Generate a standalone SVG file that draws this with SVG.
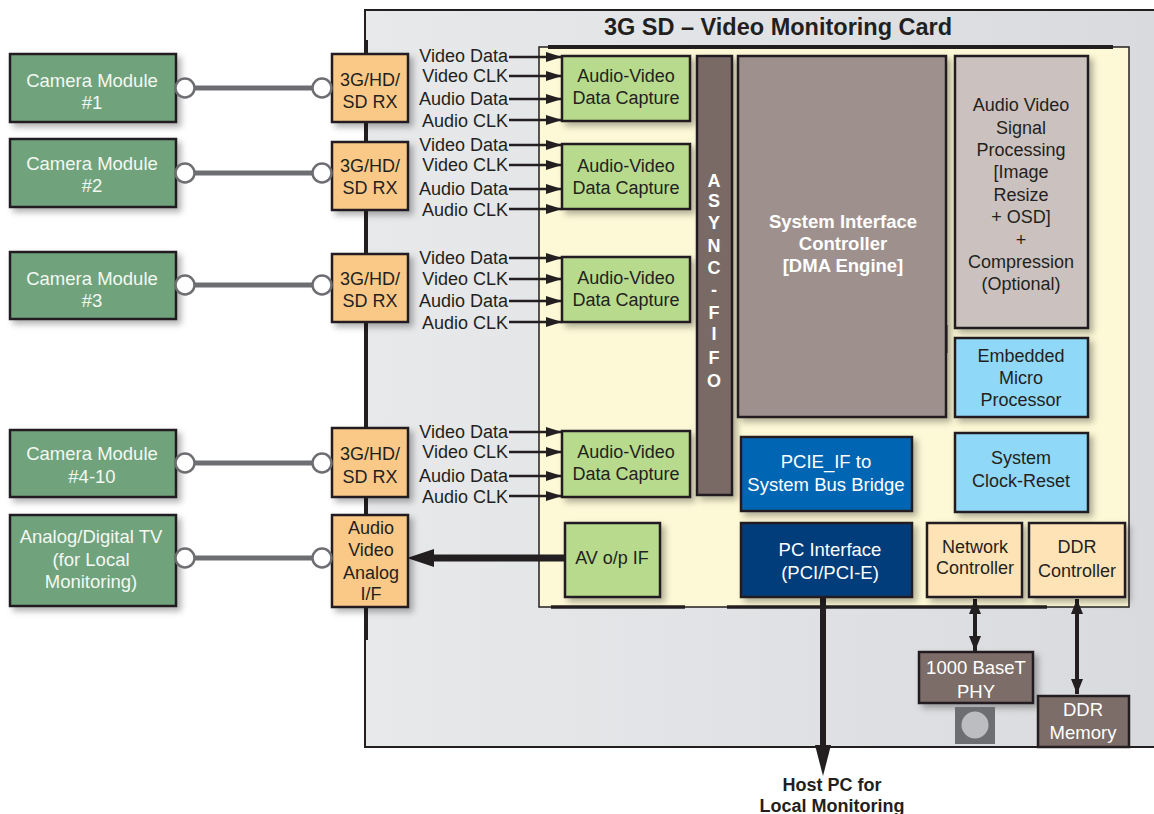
<svg xmlns="http://www.w3.org/2000/svg" width="1154" height="814" viewBox="0 0 1154 814">
<defs>
<linearGradient id="cardGrad" x1="0" y1="0" x2="1" y2="0">
<stop offset="0" stop-color="#e8e9eb"/>
<stop offset="1" stop-color="#d9dadd"/>
</linearGradient>
<filter id="sh" x="-20%" y="-20%" width="150%" height="150%">
<feDropShadow dx="4" dy="4" stdDeviation="3" flood-color="#000" flood-opacity="0.3"/>
</filter>
<marker id="ah" markerUnits="userSpaceOnUse" markerWidth="16" markerHeight="10" refX="16" refY="5" orient="auto">
<path d="M0,0 L16,5 L0,10 Z" fill="#231f20"/>
</marker>
<marker id="ahs" markerUnits="userSpaceOnUse" markerWidth="16" markerHeight="12" refX="15" refY="6" orient="auto-start-reverse">
<path d="M0,0 L15,6 L0,12 Z" fill="#231f20"/>
</marker>
</defs>
<style>
text{font-family:"Liberation Sans",Arial,Helvetica,sans-serif;text-anchor:middle}
.b{stroke:#231f20;stroke-width:2.5}
.cam{fill:#6fa37c}
.cam-t{fill:#f4f8f2;font-size:18.5px}
.rx{fill:#fbc987}
.dk{fill:#231f20;font-size:18px}
.wt{fill:#ffffff;font-size:18.5px}
.cap{fill:#b8da8c}
.sig{fill:#231f20;font-size:18px;text-anchor:end}
.sl{stroke:#231f20;stroke-width:2.5;fill:none}
.cable{stroke:#6d6e71;stroke-width:5}
.jack{fill:#ffffff;stroke:#6d6e71;stroke-width:2.5}
</style>

<!-- Card background -->
<g id="card">
<rect x="365" y="10" width="800" height="737" fill="url(#cardGrad)" stroke="#231f20" stroke-width="2"/>
<line x1="366" y1="40" x2="366" y2="640" stroke="#231f20" stroke-width="4"/>
<text x="778" y="35" font-size="23.5" font-weight="bold" fill="#231f20">3G SD – Video Monitoring Card</text>
<rect x="539" y="47" width="590" height="560" fill="#fdf9d6" stroke="#231f20" stroke-width="1.5"/>
<line x1="548" y1="47" x2="1113" y2="47" stroke="#231f20" stroke-width="4"/>
<line x1="551" y1="607" x2="685" y2="607" stroke="#231f20" stroke-width="3.5"/>
<line x1="727" y1="607" x2="1047" y2="607" stroke="#231f20" stroke-width="3.5"/>
</g>

<!-- Connectors -->
<g id="connectors">
<line class="cable" x1="185" y1="88" x2="322" y2="88"/>
<line class="cable" x1="185" y1="173" x2="322" y2="173"/>
<line class="cable" x1="185" y1="285" x2="322" y2="285"/>
<line class="cable" x1="185" y1="463" x2="322" y2="463"/>
<line class="cable" x1="185" y1="558" x2="322" y2="558"/>

<line class="sl" x1="509" y1="57" x2="562" y2="57" marker-end="url(#ah)"/>
<line class="sl" x1="509" y1="76" x2="562" y2="76" marker-end="url(#ah)"/>
<line class="sl" x1="509" y1="99" x2="562" y2="99" marker-end="url(#ah)"/>
<line class="sl" x1="509" y1="120" x2="562" y2="120" marker-end="url(#ah)"/>

<line class="sl" x1="509" y1="145" x2="562" y2="145" marker-end="url(#ah)"/>
<line class="sl" x1="509" y1="165" x2="562" y2="165" marker-end="url(#ah)"/>
<line class="sl" x1="509" y1="189" x2="562" y2="189" marker-end="url(#ah)"/>
<line class="sl" x1="509" y1="209" x2="562" y2="209" marker-end="url(#ah)"/>

<line class="sl" x1="509" y1="258" x2="562" y2="258" marker-end="url(#ah)"/>
<line class="sl" x1="509" y1="279" x2="562" y2="279" marker-end="url(#ah)"/>
<line class="sl" x1="509" y1="301" x2="562" y2="301" marker-end="url(#ah)"/>
<line class="sl" x1="509" y1="322" x2="562" y2="322" marker-end="url(#ah)"/>

<line class="sl" x1="509" y1="432" x2="562" y2="432" marker-end="url(#ah)"/>
<line class="sl" x1="509" y1="452" x2="562" y2="452" marker-end="url(#ah)"/>
<line class="sl" x1="509" y1="476" x2="562" y2="476" marker-end="url(#ah)"/>
<line class="sl" x1="509" y1="496" x2="562" y2="496" marker-end="url(#ah)"/>

<!-- AV o/p IF to Analog I/F -->
<line x1="565" y1="558" x2="430" y2="558" stroke="#231f20" stroke-width="7"/>
<polygon points="407,558 434,549 434,567" fill="#231f20"/>

<!-- PC Interface to Host PC -->
<line x1="823" y1="597" x2="823" y2="750" stroke="#231f20" stroke-width="6"/>
<polygon points="815,745 831,745 823,776" fill="#231f20"/>

<!-- Network <-> PHY -->
<line x1="975" y1="599" x2="975" y2="651" stroke="#231f20" stroke-width="4" marker-start="url(#ahs)" marker-end="url(#ahs)"/>
<!-- DDR ctrl <-> DDR mem -->
<line x1="1077" y1="599" x2="1077" y2="694" stroke="#231f20" stroke-width="4" marker-start="url(#ahs)" marker-end="url(#ahs)"/>

<!-- small ticks -->
<line x1="946" y1="325" x2="946" y2="353" stroke="#231f20" stroke-width="3"/>
<line x1="731" y1="422" x2="731" y2="444" stroke="#231f20" stroke-width="3"/>
</g>

<!-- Signal labels -->
<g id="signal-labels">
<text class="sig" x="508" y="62">Video Data</text>
<text class="sig" x="508" y="82">Video CLK</text>
<text class="sig" x="508" y="105">Audio Data</text>
<text class="sig" x="508" y="127">Audio CLK</text>
<text class="sig" x="508" y="151">Video Data</text>
<text class="sig" x="508" y="171">Video CLK</text>
<text class="sig" x="508" y="195">Audio Data</text>
<text class="sig" x="508" y="216">Audio CLK</text>
<text class="sig" x="508" y="264">Video Data</text>
<text class="sig" x="508" y="285">Video CLK</text>
<text class="sig" x="508" y="307">Audio Data</text>
<text class="sig" x="508" y="329">Audio CLK</text>
<text class="sig" x="508" y="438">Video Data</text>
<text class="sig" x="508" y="458">Video CLK</text>
<text class="sig" x="508" y="482">Audio Data</text>
<text class="sig" x="508" y="503">Audio CLK</text>
</g>

<!-- Camera modules -->
<g id="camera1"><rect class="cam b" x="10" y="54" width="166" height="68" filter="url(#sh)"/><text class="cam-t" x="92" y="87">Camera Module</text><text class="cam-t" x="92" y="109">#1</text></g>
<g id="camera2"><rect class="cam b" x="10" y="139" width="166" height="68" filter="url(#sh)"/><text class="cam-t" x="92" y="170">Camera Module</text><text class="cam-t" x="92" y="192">#2</text></g>
<g id="camera3"><rect class="cam b" x="10" y="252" width="166" height="67" filter="url(#sh)"/><text class="cam-t" x="92" y="285">Camera Module</text><text class="cam-t" x="92" y="307">#3</text></g>
<g id="camera4"><rect class="cam b" x="10" y="430" width="166" height="67" filter="url(#sh)"/><text class="cam-t" x="92" y="460">Camera Module</text><text class="cam-t" x="92" y="483">#4-10</text></g>
<g id="tv"><rect class="cam b" x="10" y="515" width="166" height="91" filter="url(#sh)"/><text class="cam-t" x="91" y="543">Analog/Digital TV</text><text class="cam-t" x="91" y="566">(for Local</text><text class="cam-t" x="91" y="588">Monitoring)</text></g>

<!-- RX boxes -->
<g id="rx1"><rect class="rx b" x="332" y="54" width="76" height="68" filter="url(#sh)"/><text class="dk" x="370" y="86">3G/HD/</text><text class="dk" x="370" y="108">SD RX</text></g>
<g id="rx2"><rect class="rx b" x="332" y="142" width="76" height="68" filter="url(#sh)"/><text class="dk" x="370" y="172">3G/HD/</text><text class="dk" x="370" y="194">SD RX</text></g>
<g id="rx3"><rect class="rx b" x="332" y="254" width="76" height="68" filter="url(#sh)"/><text class="dk" x="370" y="285">3G/HD/</text><text class="dk" x="370" y="307">SD RX</text></g>
<g id="rx4"><rect class="rx b" x="332" y="428" width="76" height="69" filter="url(#sh)"/><text class="dk" x="370" y="460">3G/HD/</text><text class="dk" x="370" y="483">SD RX</text></g>
<g id="analog-if"><rect class="rx b" x="332" y="515" width="76" height="92" filter="url(#sh)"/><text class="dk" x="371" y="534">Audio</text><text class="dk" x="371" y="556">Video</text><text class="dk" x="371" y="579">Analog</text><text class="dk" x="371" y="600">I/F</text></g>

<!-- Jacks -->
<g id="jacks">
<circle class="jack" cx="185" cy="88" r="9.5"/><circle class="jack" cx="322" cy="88" r="9.5"/>
<circle class="jack" cx="185" cy="173" r="9.5"/><circle class="jack" cx="322" cy="173" r="9.5"/>
<circle class="jack" cx="185" cy="285" r="9.5"/><circle class="jack" cx="322" cy="285" r="9.5"/>
<circle class="jack" cx="185" cy="463" r="9.5"/><circle class="jack" cx="322" cy="463" r="9.5"/>
<circle class="jack" cx="185" cy="558" r="9.5"/><circle class="jack" cx="322" cy="558" r="9.5"/>
</g>

<!-- Capture boxes -->
<g id="capture1"><rect class="cap b" x="562" y="56" width="128" height="65" filter="url(#sh)"/><text class="dk" x="626" y="82">Audio-Video</text><text class="dk" x="626" y="104">Data Capture</text></g>
<g id="capture2"><rect class="cap b" x="562" y="144" width="128" height="65" filter="url(#sh)"/><text class="dk" x="626" y="172">Audio-Video</text><text class="dk" x="626" y="194">Data Capture</text></g>
<g id="capture3"><rect class="cap b" x="562" y="257" width="128" height="65" filter="url(#sh)"/><text class="dk" x="626" y="284">Audio-Video</text><text class="dk" x="626" y="306">Data Capture</text></g>
<g id="capture4"><rect class="cap b" x="562" y="431" width="128" height="66" filter="url(#sh)"/><text class="dk" x="626" y="458">Audio-Video</text><text class="dk" x="626" y="480">Data Capture</text></g>
<g id="av-op-if"><rect class="cap b" x="565" y="523" width="95" height="74" filter="url(#sh)"/><text class="dk" x="612" y="564">AV o/p IF</text></g>

<!-- ASYNC FIFO -->
<g id="async-fifo"><rect class="b" x="697" y="56" width="35" height="439" fill="#7a6a66" filter="url(#sh)"/>
<g font-size="18" font-weight="bold" fill="#ffffff">
<text x="714" y="187">A</text><text x="714" y="207">S</text><text x="714" y="229">Y</text><text x="714" y="252">N</text><text x="714" y="274">C</text><text x="714" y="296">-</text><text x="714" y="319">F</text><text x="714" y="340">I</text><text x="714" y="364">F</text><text x="714" y="387">O</text>
</g></g>

<!-- System Interface Controller -->
<g id="sic"><rect class="b" x="738" y="56" width="208" height="361" fill="#9e918d" filter="url(#sh)"/>
<g font-size="18.5" font-weight="bold" fill="#ffffff"><text x="843" y="228">System Interface</text><text x="843" y="250">Controller</text><text x="843" y="272">[DMA Engine]</text></g></g>

<!-- AV Signal Processing -->
<g id="avsp"><rect class="b" x="955" y="56" width="133" height="272" fill="#cbc2bf" filter="url(#sh)"/>
<text class="dk" x="1021" y="111">Audio Video</text><text class="dk" x="1021" y="134">Signal</text><text class="dk" x="1021" y="156">Processing</text><text class="dk" x="1021" y="178">[Image</text><text class="dk" x="1021" y="201">Resize</text><text class="dk" x="1021" y="223">+ OSD]</text><text class="dk" x="1021" y="246">+</text><text class="dk" x="1021" y="268">Compression</text><text class="dk" x="1021" y="290">(Optional)</text></g>

<g id="micro"><rect class="b" x="955" y="338" width="133" height="79" fill="#8fd8f7" filter="url(#sh)"/><text class="dk" x="1021" y="362">Embedded</text><text class="dk" x="1021" y="384">Micro</text><text class="dk" x="1021" y="406">Processor</text></g>

<g id="pcie-bridge"><rect class="b" x="741" y="437" width="171" height="74" fill="#0066b3" filter="url(#sh)"/><text class="wt" x="826" y="468">PCIE_IF to</text><text class="wt" x="826" y="491">System Bus Bridge</text></g>

<g id="clock-reset"><rect class="b" x="955" y="433" width="133" height="79" fill="#8fd8f7" filter="url(#sh)"/><text class="dk" x="1021" y="464">System</text><text class="dk" x="1021" y="487">Clock-Reset</text></g>

<g id="pc-interface"><rect class="b" x="741" y="523" width="171" height="74" fill="#003e7a" filter="url(#sh)"/><text class="wt" x="830" y="556">PC Interface</text><text class="wt" x="830" y="579">(PCI/PCI-E)</text></g>

<g id="network-ctrl"><rect class="b" x="927" y="523" width="95" height="74" fill="#fee3b6" filter="url(#sh)"/><text class="dk" x="975" y="553">Network</text><text class="dk" x="975" y="574">Controller</text></g>

<g id="ddr-ctrl"><rect class="b" x="1029" y="523" width="96" height="74" fill="#fee3b6" filter="url(#sh)"/><text class="dk" x="1077" y="553">DDR</text><text class="dk" x="1077" y="577">Controller</text></g>

<g id="phy"><rect class="b" x="919" y="652" width="114" height="51" fill="#7c6d69" filter="url(#sh)"/><text class="wt" x="976" y="674">1000 BaseT</text><text class="wt" x="976" y="698">PHY</text>
<rect x="955" y="707" width="40" height="37" fill="#6d6e71"/><circle cx="975" cy="725" r="13.5" fill="#bcbdc0"/></g>

<g id="ddr-mem"><rect class="b" x="1038" y="696" width="91" height="51" fill="#7c6d69"/><text class="wt" x="1083" y="716">DDR</text><text class="wt" x="1083" y="739">Memory</text></g>

<g id="host-pc"><text x="832" y="791" font-size="18" font-weight="bold" fill="#231f20">Host PC for</text><text x="832" y="812" font-size="18" font-weight="bold" fill="#231f20">Local Monitoring</text></g>
</svg>
